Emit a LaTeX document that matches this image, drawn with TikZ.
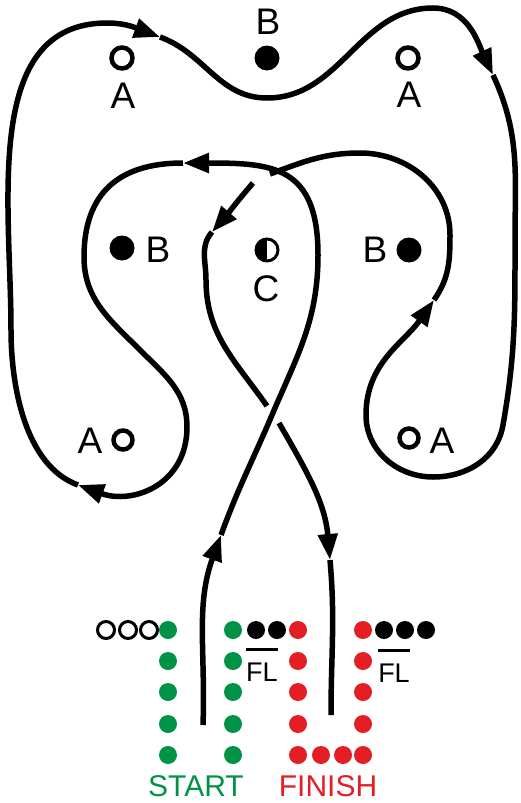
\documentclass[tikz,border=0pt]{standalone}
\usepackage{fontspec}
\setmainfont{Liberation Sans}
\usetikzlibrary{arrows.meta}
\definecolor{startgreen}{RGB}{0,146,69}
\definecolor{finishred}{RGB}{227,30,36}

\begin{document}
\begin{tikzpicture}[x=1pt,y=-1pt]
\useasboundingbox (0,0) rectangle (520,803);

\begin{scope}[every node/.style={circle,inner sep=0pt,minimum size=25pt}]
    \node[fill=black] (B) at (267,58) {};
    \node[draw,line width=4.5pt,minimum size=21pt] (A1) at (122,58) {};
    \node[draw,line width=4.5pt,minimum size=21pt] (A2) at (408,58) {};
    \node[fill=black] (B1) at (122,248) {};
    \node[fill=black] (B2) at (409,250) {};
    \node[draw,line width=3pt,minimum size=22pt,
          path picture={\fill (path picture bounding box.north) rectangle (path picture bounding box.south west);}] (C) at (267,250) {};
    \node[draw,line width=4.5pt,minimum size=19pt] (A3) at (123,440) {};
    \node[draw,line width=4.5pt,minimum size=19pt] (A4) at (409,438) {};
\end{scope}

\begin{scope}[every node/.style={inner sep=0pt,font=\fontsize{37}{40}\selectfont}]
    \node (lB) at (268,22) {B};
    \node (lA1) at (123,96) {A};
    \node (lA2) at (409,95) {A};
    \node (lB1) at (158,250) {B};
    \node (lC) at (266,289) {C};
    \node (lB2) at (375,250) {B};
    \node (lA3) at (90,441) {A};
    \node (lA4) at (442,441) {A};
\end{scope}

\begin{scope}[line width=5.5pt,>={Triangle[length=26pt,width=19pt]}]
    \coordinate (s0) at (203,725);
    \coordinate (t1) at (221,535);
    \coordinate (x1) at (272,415);
    \coordinate (c1) at (318,255);
    \coordinate (t2) at (183,163);
    \coordinate (c2) at (84,257);
    \coordinate (c3) at (140,350);
    \coordinate (c4) at (187,427);
    \coordinate (t3) at (78,485);
    \coordinate (c5) at (11,330);
    \coordinate (c6) at (107,23);
    \coordinate (t4) at (160,37);
    \coordinate (c7) at (267,98);
    \coordinate (c8) at (433,8);
    \coordinate (t5) at (493,75);
    \coordinate (c9) at (515,240);
    \coordinate (c10) at (503,425);
    \coordinate (c11) at (433,477);
    \coordinate (c12) at (366,415);
    \coordinate (t6) at (434,300);
    \coordinate (c13) at (450,235);
    \coordinate (c14) at (360,153);
    \coordinate (u1) at (270,174);
    \coordinate (u2) at (253,183);
    \coordinate (t7) at (212,232);
    \coordinate (c15) at (206,280);
    \coordinate (u3) at (267,406);
    \coordinate (u4) at (279,423);
    \coordinate (t8) at (330,560);
    \coordinate (e0) at (331,715);

    \draw[->] (s0) to[out=88,in=250] (t1);
    \draw[->] (t1) to[out=70,in=247] (x1) to[out=67,in=270] (c1)
        to[out=90,in=0,looseness=1.4] (t2);
    \draw[->] (t2) to[out=180,in=90,looseness=1.2] (c2) to[out=270,in=135] (c3)
        to[out=315,in=90] (c4) to[out=270,in=340,looseness=1.2] (t3);
    \draw[->] (t3) to[out=160,in=270,looseness=0.85] (c5) to[out=90,in=180] (c6) to[out=0,in=160] (t4);
    \draw[->] (t4) to[out=340,in=180] (c7) to[out=0,in=180] (c8) to[out=0,in=115] (t5);
    \draw[->] (t5) to[out=295,in=90] (c9) to[out=270,in=80] (c10) to[out=260,in=0] (c11)
        to[out=180,in=270] (c12) to[out=90,in=235] (t6);
    \draw (t6) to[out=55,in=270] (c13) to[out=90,in=0] (c14) to[out=180,in=20] (u1);
    \draw[->] (u2) to[out=229,in=49] (t7);
    \draw (t7) to[out=229,in=90] (c15) to[out=270,in=125] (u3);
    \draw[->] (u4) to[out=300,in=95] (t8);
    \draw (t8) to[out=275,in=90] (e0);
\end{scope}

\begin{scope}[every node/.style={circle,inner sep=0pt,minimum size=18pt}]
    \node[draw,line width=3pt,minimum size=17pt] (o1) at (106,630) {};
    \node[draw,line width=3pt,minimum size=17pt] (o2) at (128,630) {};
    \node[draw,line width=3pt,minimum size=17pt] (o3) at (149,630) {};
    \node[fill=startgreen] (sa1) at (168,630) {};
    \node[fill=startgreen] (sa2) at (168,661) {};
    \node[fill=startgreen] (sa3) at (168,692) {};
    \node[fill=startgreen] (sa4) at (168,724) {};
    \node[fill=startgreen] (sa5) at (168,755) {};
    \node[fill=startgreen] (sb1) at (233,630) {};
    \node[fill=startgreen] (sb2) at (233,661) {};
    \node[fill=startgreen] (sb3) at (233,692) {};
    \node[fill=startgreen] (sb4) at (233,724) {};
    \node[fill=startgreen] (sb5) at (233,755) {};
    \node[fill=black] (k1) at (256,630) {};
    \node[fill=black] (k2) at (277,630) {};
    \node[fill=finishred] (fa1) at (298,630) {};
    \node[fill=finishred] (fa2) at (298,661) {};
    \node[fill=finishred] (fa3) at (298,692) {};
    \node[fill=finishred] (fa4) at (298,724) {};
    \node[fill=finishred] (fa5) at (298,755) {};
    \node[fill=finishred] (fm1) at (321,755) {};
    \node[fill=finishred] (fm2) at (343,755) {};
    \node[fill=finishred] (fb1) at (363,630) {};
    \node[fill=finishred] (fb2) at (363,661) {};
    \node[fill=finishred] (fb3) at (363,692) {};
    \node[fill=finishred] (fb4) at (363,724) {};
    \node[fill=finishred] (fb5) at (363,755) {};
    \node[fill=black] (m1) at (384,630) {};
    \node[fill=black] (m2) at (405,630) {};
    \node[fill=black] (m3) at (426,630) {};
\end{scope}

\begin{scope}[every node/.style={inner sep=0pt}]
    \node[font=\fontsize{27}{30}\selectfont] (FL1) at (262,672) {FL};
    \node[font=\fontsize{27}{30}\selectfont] (FL2) at (394,673) {FL};
    \node[font=\fontsize{30}{34}\selectfont,text=startgreen] (start) at (196,786) {START};
    \node[font=\fontsize{30}{34}\selectfont,text=finishred] (finish) at (328,786) {FINISH};
\end{scope}
\draw[line width=3pt] ([yshift=13pt]FL1.north west) -- ([yshift=13pt]FL1.north east);
\draw[line width=3pt] ([yshift=13pt]FL2.north west) -- ([yshift=13pt]FL2.north east);
\end{tikzpicture}
\end{document}
